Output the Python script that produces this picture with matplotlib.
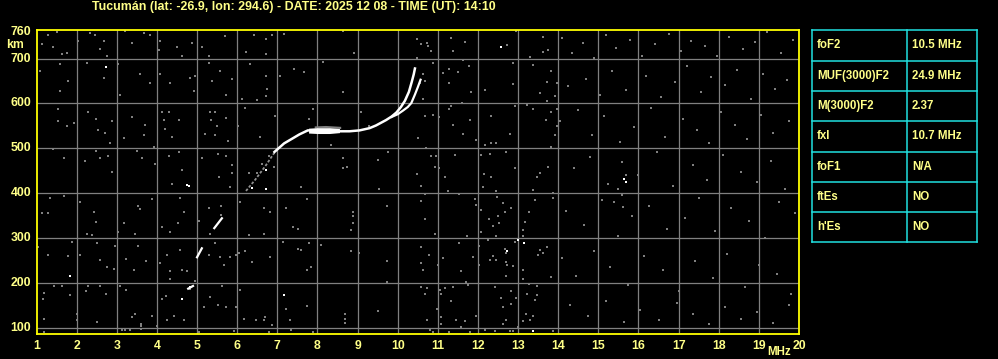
import numpy as np
import matplotlib
matplotlib.use("Agg")
import matplotlib.pyplot as plt

# ---------------- data ----------------
title = "Tucumán (lat: -26.9, lon: 294.6) - DATE: 2025 12 08 - TIME (UT): 14:10"
x_ticks = list(range(1, 21))
y_ticks = [100, 200, 300, 400, 500, 600, 700, 760]

param_names = ["foF2", "MUF(3000)F2", "M(3000)F2", "fxI", "foF1", "ftEs", "h'Es"]
param_values = ["10.5 MHz", "24.9 MHz", "2.37", "10.7 MHz", "N/A", "NO", "NO"]

# ordinary trace (MHz, km)
o_f = [6.93, 7.17, 7.38, 7.55, 7.76, 7.95, 8.20, 8.55, 8.80, 9.05, 9.30, 9.46, 9.71,
       9.85, 9.97, 10.08, 10.18, 10.28, 10.35, 10.40, 10.43]
o_h = [492, 511, 522, 531, 540, 540, 539, 538, 538, 540, 545, 551, 563,
       571, 580, 592, 606, 626, 648, 665, 678]
# extraordinary branch
x_f = [9.85, 10.00, 10.13, 10.25, 10.34, 10.43, 10.50, 10.57]
x_h = [570, 576, 584, 592, 601, 620, 636, 653]
# thick band around 8 MHz
band_f = [7.78, 8.00, 8.30, 8.55]
band_lo = [534, 533, 533, 535]
band_hi = [545, 546, 546, 544]
gband_f = [7.92, 8.20, 8.58]
gband_lo = [545, 546, 544]
gband_hi = [550, 551, 549]
# lower fragments
low_f = [4.78, 4.90, np.nan, 5.00, 5.12, np.nan, 5.43, 5.62]
low_h = [187, 193, np.nan, 257, 277, np.nan, 322, 344]
gray_f = [6.22, 6.45, 6.70, 6.97]
gray_h = [405, 430, 460, 496]

white_f = [2.73, 1.83, 4.79, 6.71, 4.63, 4.83, 7.17, 12.58, 13.14, 12.73, 13.38, 6.38, 6.72, 4.76, 15.65, 15.68, 13.0]
white_h = [681, 216, 416, 409, 163, 190, 172, 727, 289, 270, 92, 411, 451, 418, 432, 425, 295]

noise_f = [1.28, 1.13, 1.50, 1.42, 1.63, 1.75, 2.04, 2.33, 2.46, 2.67, 2.58, 2.75, 3.20, 3.38, 3.67,
           3.83, 4.08, 4.04, 4.50, 4.63, 4.88, 5.13, 5.29, 5.69, 6.23, 6.42, 6.71, 6.88, 6.71, 7.17,
           1.58, 1.08, 1.79, 1.58, 2.25, 2.67, 3.04, 3.08, 3.58, 3.83, 4.08, 4.33, 4.83, 4.96, 4.92,
           5.29, 5.58, 5.38, 5.88, 5.71, 6.13, 6.33, 6.50, 6.71, 6.75, 6.71, 7.08, 7.42,
           1.53, 1.53, 1.75, 1.94, 2.28, 2.48, 2.71, 2.88, 2.54, 2.83, 3.19, 3.38, 3.71, 3.67, 4.13,
           4.29, 4.17, 4.54, 4.19, 4.38, 5.33, 5.46, 5.36, 5.50, 5.72, 5.19, 5.46, 5.77, 6.03, 6.19,
           6.58, 6.94,
           1.42, 1.69, 2.21, 2.58, 2.79, 2.48, 2.88, 3.50, 3.63, 3.92, 3.96, 4.29, 4.54, 4.63, 5.13,
           5.52, 5.71, 5.88, 5.88, 5.54, 6.29, 6.50, 6.79, 6.63, 6.92,
           1.13, 1.29, 1.33, 1.69, 2.08, 2.44, 2.48, 2.25, 2.38, 3.03, 3.19, 3.54, 3.58, 3.46, 3.88,
           4.38, 4.58, 4.67, 4.52, 4.33, 4.13, 5.04, 5.29, 5.60, 5.60, 5.33, 5.83, 6.08, 6.68, 6.83,
           6.29, 6.67, 7.21, 7.38,
           1.03, 1.29, 1.78, 2.08, 1.88, 2.50, 2.58, 2.76, 2.93, 2.96, 3.22, 3.44, 3.54, 3.73, 4.08,
           4.25, 4.33, 4.33, 4.58, 4.63, 4.75, 4.94, 5.29, 5.46, 5.58, 5.67, 5.83, 5.96, 6.04, 6.19,
           6.38, 6.81, 7.13,
           1.19, 1.17, 1.44, 1.63, 1.83, 2.02, 2.23, 2.29, 2.58, 2.73, 3.08, 3.23, 3.39, 3.46, 3.61,
           3.88, 4.13, 4.23, 4.25, 4.43, 4.67, 4.63, 4.83, 5.18, 5.33, 5.53, 5.61, 5.71, 6.08, 5.96,
           6.17, 6.46, 6.67, 6.69, 6.88, 7.21, 7.31,
           1.19, 3.13, 3.20, 3.33, 3.61, 3.61, 5.04, 5.92, 6.79, 7.33, 1.19, 2.00, 2.50, 4.00,
           8.63, 8.92, 8.13, 7.67, 8.63, 7.88, 7.78, 8.33, 9.08, 9.29, 9.52, 9.77, 8.63, 8.63, 8.73,
           10.48, 10.48, 10.58, 10.75, 10.73, 10.82, 10.88, 10.63, 10.67, 10.56, 10.63, 10.67, 10.88,
           11.03, 11.29, 11.13, 11.27, 11.50, 11.63, 11.33, 11.29, 11.61, 11.78, 11.83, 11.96, 12.17,
           12.33, 12.46, 12.33, 11.79, 11.38, 11.63, 11.33, 11.67, 11.38, 12.08, 12.29, 12.71, 12.15,
           12.33, 12.17, 12.72, 12.94, 12.88, 12.88, 12.92, 12.79, 13.29, 13.38, 13.63, 13.61, 13.75,
           13.81, 13.71, 13.54, 13.71, 13.96, 13.92, 13.96, 13.83, 13.69, 13.96, 13.92, 13.83, 13.38,
           13.21, 13.75, 13.54, 13.46, 12.92, 10.92, 10.48, 10.50, 11.03, 11.17, 11.42, 10.96, 10.71,
           10.83,
           7.58, 7.75, 9.54, 9.73, 10.58, 10.58, 10.67, 11.25, 11.54, 11.92, 11.94, 12.13, 12.46, 12.63,
           12.48, 13.38, 13.42, 13.88, 13.88, 8.88, 8.88, 8.88, 8.83, 10.69, 10.92, 11.73, 12.08, 12.27,
           12.38, 12.53, 12.50, 12.67, 12.83, 13.27, 13.17, 13.13, 13.13, 12.08, 12.25, 12.44, 7.52,
           7.79, 8.08, 7.58, 8.83, 9.03, 9.73, 7.83, 7.75, 10.58, 10.79, 10.58, 10.63, 11.13, 11.00,
           11.52, 11.58, 11.71, 11.88, 12.03, 12.03, 12.29, 12.38, 12.44, 12.67, 12.71, 12.69, 12.73,
           12.88, 12.69, 12.92, 13.54, 13.63, 13.73, 13.50, 13.13, 13.13, 13.83, 13.27, 13.48, 13.46,
           13.42, 13.23, 12.96, 12.83, 12.63, 12.58, 12.83, 12.42, 11.96, 11.67, 11.46, 11.58, 11.33,
           11.06, 11.08, 11.17, 11.38, 10.58, 10.73, 10.67, 10.97, 11.08, 11.08, 10.73, 10.88, 10.80,
           11.29, 11.79, 12.17, 12.42, 12.63, 12.71, 12.79, 12.88, 13.00, 13.13, 13.19, 13.29, 13.38,
           13.88, 7.73, 7.52, 9.73, 9.52, 7.88, 11.75, 8.69, 8.69, 8.69,
           14.10, 14.35, 14.62, 14.90, 15.20, 15.45, 15.80, 16.10, 16.40, 16.75, 17.05, 17.30, 17.65,
           17.95, 18.25, 18.60, 18.90, 19.20, 19.55, 19.85, 14.25, 14.70, 15.05, 15.35, 15.70, 16.20,
           16.55, 16.90, 17.20, 17.55, 17.80, 18.15, 18.45, 18.80, 19.10, 19.40, 19.70, 14.05, 14.50,
           14.85, 15.15, 15.55, 15.90, 16.30, 16.65, 17.10, 17.45, 17.75, 18.05, 18.40, 18.70, 19.05,
           19.35, 19.75, 14.40, 14.80, 15.25, 15.60, 16.00, 16.45, 16.85, 17.35, 17.70, 18.10, 18.55,
           18.95, 19.30, 19.65, 14.20, 14.65, 15.10, 15.50, 15.85, 16.25, 16.70, 17.15, 17.50, 17.90,
           18.30, 18.75, 19.15, 19.50, 19.90, 15.58, 15.62, 15.48, 15.70, 15.40,
           14.10, 14.45, 14.90, 15.30, 15.75, 16.15, 16.60, 17.00, 17.40, 17.85, 18.20, 18.65, 19.00,
           19.45, 19.80, 14.30, 14.75, 15.20, 15.65, 16.05, 16.50, 16.95, 17.35, 17.75, 18.15, 18.55,
           18.95, 19.35, 19.75]
noise_h = [752, 732, 760, 725, 710, 713, 740, 757, 752, 740, 721, 707, 762, 734, 758,
           752, 740, 720, 725, 706, 734, 725, 707, 750, 715, 752, 743, 752, 710, 755,
           687, 672, 650, 627, 691, 657, 687, 620, 665, 646, 665, 646, 657, 661, 627,
           691, 672, 650, 655, 620, 610, 687, 607, 661, 633, 616, 661, 678,
           588, 560, 549, 556, 580, 565, 534, 560, 541, 511, 522, 570, 553, 530, 580,
           580, 564, 564, 543, 526, 580, 580, 564, 549, 567, 532, 530, 517, 550, 589,
           526, 571,
           498, 478, 472, 478, 482, 495, 448, 495, 478, 504, 466, 482, 491, 451, 478,
           487, 482, 463, 446, 437, 444, 444, 482, 466, 459,
           355, 355, 390, 394, 381, 359, 335, 310, 307, 313, 333, 372, 364, 310, 387,
           420, 390, 359, 333, 313, 324, 339, 368, 372, 352, 310, 413, 381, 367, 359,
           307, 310, 368, 324,
           281, 261, 259, 263, 290, 288, 250, 235, 231, 283, 253, 229, 283, 248, 244,
           261, 226, 209, 273, 229, 226, 205, 261, 288, 257, 239, 257, 261, 266, 270,
           246, 257, 290,
           177, 164, 194, 194, 172, 130, 181, 194, 194, 176, 194, 183, 124, 130, 109,
           127, 164, 170, 116, 127, 116, 164, 187, 147, 168, 151, 192, 147, 185, 146,
           120, 116, 116, 124, 105, 142, 116,
           90, 94, 94, 95, 104, 98, 90, 92, 90, 94, 120, 118, 112, 104,
           762, 712, 692, 670, 625, 588, 565, 508, 580, 549, 473, 491, 478, 456, 459,
           743, 702, 732, 728, 734, 717, 691, 665, 650, 646, 609, 573, 575,
           570, 676, 669, 646, 670, 698, 594, 588, 602, 684, 625, 519, 508,
           511, 511, 573, 564, 552, 532, 747, 737, 717, 485, 488, 491, 443,
           437, 629, 730, 762, 691, 643, 594, 531, 704, 685, 749, 715, 719,
           672, 648, 624, 605, 645, 617, 587, 580, 564, 549, 530, 504, 588,
           597, 459, 444, 437, 455, 459, 443, 522, 455, 436, 485, 482, 500,
           482,
           413, 387, 409, 372, 416, 383, 398, 405, 399, 387, 374, 413, 405, 379,
           392, 407, 385, 401, 390, 357, 350, 333, 318, 342, 310, 305, 362, 342,
           327, 333, 350, 359, 368, 359, 335, 318, 304, 313, 296, 305, 320,
           288, 284, 274, 270, 266, 248, 236, 228, 279, 263, 244, 229, 256, 239,
           288, 227, 201, 257, 283, 239, 251, 259, 251, 276, 266, 246, 239,
           237, 216, 292, 273, 266, 279, 261, 229, 209, 213, 198, 194, 172,
           162, 176, 167, 152, 147, 167, 181, 190, 127, 115, 117, 101, 159,
           184, 174, 188, 190, 190, 188, 176, 142, 124, 109, 116, 90, 94,
           90, 90, 95, 92, 109, 116, 92, 92, 101, 115, 130, 116, 125,
           92, 149, 276, 202, 137, 90, 195, 130, 120, 110,
           745, 712, 735, 702, 752, 724, 741, 706, 733, 755, 718, 740, 729,
           705, 748, 722, 737, 760, 712, 742, 640, 655, 618, 672, 630, 661,
           615, 648, 683, 625, 660, 641, 675, 610, 666, 633, 652, 560, 585,
           530, 572, 515, 548, 590, 526, 565, 540, 512, 580, 552, 520, 575,
           535, 560, 455, 480, 420, 470, 440, 492, 415, 463, 430, 486, 448,
           425, 472, 410, 360, 330, 385, 305, 350, 372, 320, 345, 390, 315,
           368, 338, 300, 380, 355, 395, 370, 410, 440, 380,
           255, 215, 270, 235, 195, 260, 228, 182, 248, 210, 265, 190, 240,
           220, 175, 150, 125, 160, 112, 140, 118, 155, 130, 108, 145, 120,
           135, 110, 150]

# ---------------- figure ----------------
W, H = 998, 359
fig = plt.figure(figsize=(W / 100, H / 100), dpi=100, facecolor="black")
L, R, T, B = 36.5, 799, 29.5, 333.5
ax = fig.add_axes([L / W, 1 - B / H, (R - L) / W, (B - T) / H], facecolor="black")

yellow = "#ffff00"
pale = "#ffff88"
gray = "#808080"
fnt = dict(family=["Liberation Sans", "DejaVu Sans"], weight="bold")

ax.set_xlim(1, 20)
ax.set_ylim(87, 765)
ax.set_xticks(range(2, 20))
ax.set_yticks([100, 200, 300, 400, 500, 600, 700])
ax.grid(True, color=gray, lw=0.9)
ax.set_axisbelow(True)
ax.tick_params(length=0, labelbottom=False, labelleft=False)
for s in ax.spines.values():
    s.set_color(yellow)
    s.set_linewidth(1.3)

ax.scatter(noise_f, noise_h, marker="s", s=3.8, c=gray, linewidths=0, zorder=2)
ax.plot(gray_f, gray_h, color="#909090", lw=1.3, ls=(0, (1.5, 1.0)), zorder=3)
ax.fill_between(gband_f, gband_lo, gband_hi, color=gray, lw=0, zorder=3)
ax.fill_between(band_f, band_lo, band_hi, color="white", lw=0, zorder=4)
ax.plot(o_f, o_h, color="white", lw=1.8, zorder=4)
ax.plot(x_f, x_h, color="white", lw=1.6, zorder=4)
ax.plot(low_f, low_h, color="white", lw=1.6, zorder=4)
ax.scatter(white_f, white_h, marker="s", s=4.5, c="white", linewidths=0, zorder=4)

# tick labels
for v in x_ticks:
    ax.text(v, -0.02, str(v), transform=ax.get_xaxis_transform(), ha="center", va="top",
            color=pale, fontsize=8.8, **fnt)
for v in y_ticks:
    ax.text(-0.007, v, str(v), transform=ax.get_yaxis_transform(), ha="right", va="center",
            color=pale, fontsize=8.8, **fnt)

# overlay in pixel coordinates
ov = fig.add_axes([0, 0, 1, 1], facecolor="none")
ov.set_xlim(0, W)
ov.set_ylim(H, 0)
ov.axis("off")
ov.text(294, 7, title, ha="center", va="center", color=pale, fontsize=8.9, **fnt)
ov.text(6, 45, "km", ha="left", va="center", color=pale, fontsize=8.8, **fnt)
ov.text(779, 352, "MHz", ha="center", va="center", color=pale, fontsize=8.3, **fnt)

# parameter table
cyan = "#20e0e0"
tx0, tx1, txm = 812, 977, 907
ty0, rh = 30.3, 30.3
n = len(param_names)
for i in range(n + 1):
    ov.plot([tx0, tx1], [ty0 + i * rh] * 2, color=cyan, lw=1.1)
for xx in (tx0, txm, tx1):
    ov.plot([xx, xx], [ty0, ty0 + n * rh], color=cyan, lw=1.1)
for i, (nm, val) in enumerate(zip(param_names, param_values)):
    yc = ty0 + (i + 0.5) * rh
    ov.text(817, yc, nm, ha="left", va="center", color=pale, fontsize=8.3, **fnt)
    ov.text(912, yc, val, ha="left", va="center", color=pale, fontsize=8.3, **fnt)

fig.savefig("out.png", dpi=100, facecolor="black")
